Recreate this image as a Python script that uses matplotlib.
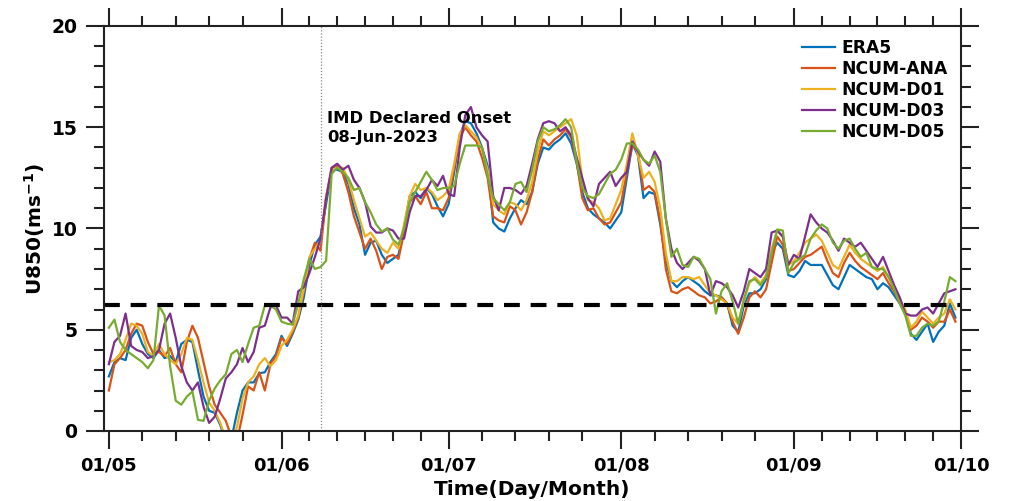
import matplotlib
matplotlib.use("Agg")
import matplotlib.pyplot as plt
import matplotlib.dates as mdates
import pandas as pd
import numpy as np

# daily U850 (m/s), 01 May - 30 Sep 2023
dates = pd.date_range("2023-05-01", "2023-09-30", freq="D")

era5 = [
    2.7, 3.4, 3.6, 3.5, 4.6, 5.0, 4.3, 3.8, 3.6, 4.0,
    3.6, 3.7, 3.4, 4.3, 4.5, 4.4, 3.0, 1.7, 1.0, 0.9,
    0.3, -0.5, -0.4, 0.9, 2.0, 2.4, 2.4, 2.85, 2.9, 3.4,
    3.8, 4.7, 4.2, 4.8, 5.5, 6.6, 8.2, 9.2, 9.6, 11.2,
    12.9, 12.9, 12.8, 12.2, 11.0, 10.2, 8.7, 9.3, 9.4, 8.7,
    8.3, 8.5, 8.7, 10.0, 11.6, 11.8, 11.5, 12.0, 11.7, 11.1,
    10.6, 11.2, 12.8, 14.6, 15.3, 15.2, 14.7, 14.0, 13.1, 10.3,
    10.0, 9.85, 10.5, 11.0, 11.4, 11.2, 11.8, 13.2, 14.0, 13.9,
    14.2, 14.4, 14.7, 14.2, 13.2, 11.8, 11.0, 10.7, 10.5, 10.3,
    10.0, 10.4, 10.8, 12.5, 14.2, 13.6, 11.5, 11.8, 11.7, 10.2,
    8.4, 7.4, 7.1, 7.4, 7.6, 7.4, 7.2, 6.9, 6.7, 6.7,
    6.6, 6.3, 5.2, 4.9, 6.2, 6.8, 6.8, 7.0, 7.5, 8.8,
    9.3, 9.0, 7.7, 7.6, 7.9, 8.4, 8.2, 8.2, 8.2, 7.7,
    7.2, 7.0, 7.6, 8.2, 8.0, 7.8, 7.6, 7.5, 7.0, 7.3,
    7.1, 6.7, 6.3, 5.8, 4.8, 4.5, 4.9, 5.3, 4.4, 4.9,
    5.2, 6.3, 5.6,
]
ncum_ana = [
    2.0, 3.3, 3.6, 4.0, 4.8, 5.3, 5.2, 4.4, 3.8, 3.9,
    3.7, 4.1, 3.3, 2.9, 4.4, 5.2, 4.6, 3.4, 2.2, 1.3,
    0.9, 0.5, -0.3, -0.5, 0.8, 2.2, 2.0, 2.9, 2.0, 3.3,
    3.7, 4.6, 4.3, 4.9, 5.6, 6.9, 8.5, 9.3, 8.9, 11.5,
    13.0, 13.1, 12.7, 11.8, 10.6, 9.8, 9.0, 9.5, 8.9, 8.0,
    8.6, 8.7, 8.5, 9.8, 11.3, 11.6, 11.2, 11.8, 11.0, 11.0,
    10.9, 11.5, 13.0, 14.5, 15.0, 14.6, 14.3, 13.5, 12.5, 10.6,
    10.4, 10.3, 11.1, 10.9, 10.2, 10.8, 11.8, 13.4, 14.4, 14.1,
    14.4, 14.6, 14.9, 14.5, 13.3, 11.5, 10.9, 11.0, 10.5, 10.2,
    10.3, 10.8, 11.3, 12.8, 14.1, 13.8, 11.9, 12.1, 11.8, 10.4,
    8.0, 6.9, 6.8, 7.0, 7.1, 6.9, 6.7, 6.6, 6.3, 6.4,
    6.6, 6.3, 5.4, 4.8, 5.6, 6.6, 6.9, 6.6, 7.0, 8.3,
    9.6, 9.2, 7.9, 8.0, 8.3, 8.6, 8.7, 8.9, 9.1, 8.4,
    7.8, 7.6, 8.3, 8.8, 8.4, 8.1, 7.9, 7.7, 7.5, 7.8,
    7.3, 6.9, 6.3, 5.9, 5.0, 5.2, 5.6, 5.4, 5.1, 5.4,
    5.4, 6.0, 5.4,
]
ncum_d01 = [
    3.4, 3.5, 3.8, 4.5, 5.3, 5.2, 4.8, 3.9, 3.7, 4.3,
    3.8, 3.5, 3.3, 3.8, 4.6, 4.5, 3.5, 2.4, 1.4, 1.0,
    0.4, -0.4, -0.6, 0.2, 1.6, 2.4, 2.7, 3.3, 3.6, 3.2,
    3.5, 4.2, 4.5, 5.0, 5.7, 7.0, 8.6, 9.0, 9.4, 11.6,
    12.8, 13.0, 13.0, 12.4, 11.4, 10.5, 9.6, 9.8, 9.4, 9.0,
    8.8, 9.3, 9.0, 10.2, 11.6, 12.2, 11.9, 12.0, 11.8, 11.4,
    11.6, 11.9, 13.2, 14.7, 15.1, 14.8, 14.5, 13.9, 12.9, 11.2,
    10.9, 10.7, 11.3, 11.2, 10.9, 11.4, 12.3, 13.8, 14.8, 14.6,
    14.8, 15.0, 15.2, 15.4, 14.6, 12.4, 11.4, 11.3, 11.0, 10.4,
    10.5, 11.2, 11.9, 13.2, 14.7, 13.6, 12.5, 12.8, 12.3, 11.0,
    8.8, 7.4, 7.4, 7.6, 7.6, 7.5, 7.6, 7.2, 6.8, 6.7,
    6.5, 6.3, 5.6, 5.3, 6.4, 7.3, 7.6, 7.3, 7.7, 9.0,
    9.9, 9.6, 8.2, 8.4, 8.8, 9.3, 9.5, 9.7, 9.4, 8.8,
    8.2, 8.0, 8.6, 9.2, 8.8, 8.5, 8.3, 8.1, 7.9, 8.1,
    7.6, 7.1, 6.5, 6.0, 5.1, 5.4, 5.9, 5.6, 5.3, 5.6,
    5.8, 6.5, 6.0,
]
ncum_d03 = [
    3.3, 4.4, 4.7, 5.8, 4.2, 4.0, 3.9, 3.6, 3.7, 4.0,
    5.3, 5.8, 4.6, 3.2, 2.4, 2.0, 2.4, 1.2, 0.4, 0.7,
    1.6, 2.6, 2.9, 3.3, 4.1, 3.4, 3.9, 5.1, 5.2, 6.1,
    6.2, 5.6, 5.6, 5.3, 6.9, 7.1, 7.8, 8.6, 9.5, 11.5,
    13.0, 13.2, 12.9, 13.1, 12.4, 12.0, 11.3, 10.1, 9.8, 9.8,
    10.0, 9.9, 9.5, 9.5, 10.8, 11.6, 11.6, 11.9, 12.4, 12.1,
    12.6, 11.7, 11.6, 14.0, 15.6, 16.0, 15.0, 14.6, 14.3, 11.6,
    10.9, 12.0, 12.0, 11.9, 11.7, 12.1, 13.2, 14.4, 15.2, 15.3,
    15.2, 14.8, 15.0, 14.6, 13.5, 12.5, 11.5, 11.1, 12.2, 12.5,
    12.8, 12.1, 12.5, 12.8, 14.3, 13.8, 13.4, 13.1, 13.8, 13.3,
    10.5, 9.0, 8.3, 8.0, 8.3, 8.6, 8.4, 8.0, 6.7, 7.4,
    7.3, 7.1, 6.7, 6.1, 6.9, 8.0, 7.8, 7.6, 8.0, 9.8,
    9.9, 9.6, 8.2, 8.7, 8.5, 9.6, 10.7, 10.3, 10.0, 9.8,
    9.4, 8.9, 9.5, 9.3, 9.1, 9.3, 8.9, 8.5, 8.1, 8.6,
    7.9, 7.2, 6.6, 5.8, 5.7, 5.7, 6.0, 6.1, 5.8, 6.3,
    6.8, 6.9, 7.0,
]
ncum_d05 = [
    5.1, 5.5, 4.4, 4.0, 3.8, 3.6, 3.4, 3.1, 3.5, 6.2,
    5.7, 3.2, 1.5, 1.3, 1.7, 1.95, 0.55, 0.5, 1.5, 2.1,
    2.5, 2.8, 3.8, 4.0, 3.4, 4.3, 5.1, 5.2, 6.2, 6.2,
    6.0, 5.4, 5.3, 5.25, 6.3, 7.5, 8.5, 8.0, 8.1, 8.4,
    12.7, 13.0, 12.8, 12.5, 11.9, 12.0, 11.3, 10.8, 10.2, 9.85,
    10.0, 9.45, 9.2, 10.0, 11.3, 11.8, 12.3, 12.8, 12.4, 11.9,
    12.0, 12.0, 12.1, 13.2, 14.1, 14.1, 14.1, 14.0, 12.6, 11.5,
    11.2, 10.9, 11.3, 12.2, 12.3, 11.8, 12.9, 14.3, 15.0, 14.8,
    14.9, 15.1, 15.4, 15.0, 13.3, 12.0, 11.6, 11.5, 11.7, 12.2,
    12.7, 12.9, 13.4, 14.2, 14.2, 13.9, 13.4, 13.2, 13.6, 12.8,
    10.5, 8.6, 9.0, 8.2, 8.1, 8.6, 8.5, 8.0, 7.5, 5.8,
    6.9, 7.3, 6.4, 5.3, 6.5, 7.4, 7.5, 7.2, 7.6, 8.8,
    9.95, 9.9, 7.8, 8.3, 8.5, 8.7, 9.5, 9.9, 10.2, 10.0,
    9.3, 9.0, 9.4, 9.5, 9.0, 8.6, 8.8, 8.1, 8.0, 8.0,
    7.6, 7.0, 6.3, 5.7, 4.7, 4.7, 5.1, 5.3, 5.2, 5.4,
    6.4, 7.6, 7.4,
]

series_names = ["ERA5", "NCUM-ANA", "NCUM-D01", "NCUM-D03", "NCUM-D05"]
series_values = [era5, ncum_ana, ncum_d01, ncum_d03, ncum_d05]
colors = ["#0072BD", "#D95319", "#EDB120", "#7E2F8E", "#77AC30"]

threshold = 6.2
onset_date = pd.Timestamp("2023-06-08")
onset_label = "IMD Declared Onset\n08-Jun-2023"

plt.rcParams["font.family"] = ["DejaVu Sans"]
plt.rcParams["font.weight"] = "bold"
plt.rcParams["mathtext.default"] = "bf"

fig = plt.figure(figsize=(10.15, 5.01), dpi=100)
ax = fig.add_axes([104 / 1015, 70 / 501, 857 / 1015, 405 / 501])

for name, vals, c in zip(series_names, series_values, colors):
    ax.plot(dates, vals, color=c, lw=1.6, label=name)

ax.axhline(threshold, color="black", lw=3, dashes=(3.8, 2.6))
ax.axvline(onset_date, color="#888888", lw=0.9, ls=(0, (1, 1.5)))
ax.text(onset_date + pd.Timedelta(hours=28), 15.8, onset_label,
        fontsize=11.8, fontweight="bold", va="top", ha="left", linespacing=1.3)

ax.set_xlim(pd.Timestamp("2023-05-01") - pd.Timedelta(hours=21),
            pd.Timestamp("2023-10-01"))
ax.set_ylim(0, 20)

# month ticks, plus minor ticks that split each month
ax.xaxis.set_major_locator(mdates.MonthLocator())
ax.xaxis.set_major_formatter(mdates.DateFormatter("%d/%m"))
minor = []
for m, ndays in [(5, 31), (6, 30), (7, 31), (8, 31), (9, 30)]:
    days = [7, 13, 19, 25] if ndays == 31 else [6, 11, 16, 21, 26]
    minor += [pd.Timestamp(2023, m, d) for d in days]
ax.set_xticks(minor, minor=True)
ax.set_yticks([0, 5, 10, 15, 20])
ax.set_yticks(np.arange(0, 21, 1), minor=True)

ax.tick_params(which="both", direction="out", top=True, right=True,
               width=1.5, color="#222222", labelsize=13.5)
ax.tick_params(which="major", length=13, pad=6)
ax.tick_params(which="minor", length=7)
ax.tick_params(axis="x", labelsize=13, pad=5)
for lab in ax.get_xticklabels() + ax.get_yticklabels():
    lab.set_fontweight("bold")
for sp in ax.spines.values():
    sp.set_linewidth(1.5)
    sp.set_color("#222222")

ax.set_xlabel("Time(Day/Month)", fontsize=14.5, fontweight="bold", labelpad=4)
ax.set_ylabel(r"U850(ms$^{-1}$)", fontsize=14.5, fontweight="bold", labelpad=3)

leg = ax.legend(loc="upper left", bbox_to_anchor=(0.815, 0.967), frameon=False,
                borderpad=0, borderaxespad=0, labelspacing=0.17,
                handlelength=1.9, handletextpad=0.35,
                prop={"size": 12.3, "weight": "bold"})

fig.savefig("out.png", dpi=100)
